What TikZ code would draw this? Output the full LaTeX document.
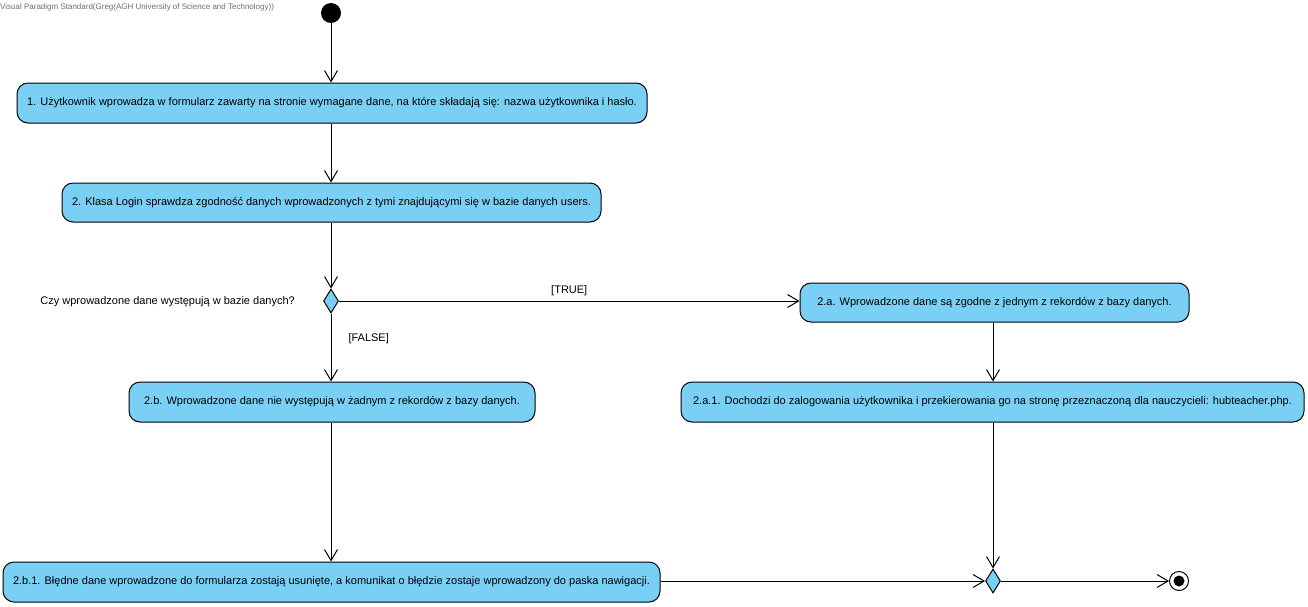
\documentclass[tikz,border=0pt]{standalone}
\usepackage{fontspec}
\setmainfont{Liberation Sans}
\usetikzlibrary{arrows.meta,shapes.geometric}
\definecolor{actfill}{RGB}{122,207,245}
\definecolor{hdrgray}{RGB}{110,110,110}
\tikzset{
  act/.style={draw=black,line width=1pt,fill=actfill,rounded corners=11pt,inner sep=0pt,font=\fontsize{11}{13}\selectfont},
  flow/.style={draw=black,line width=1pt,-{Straight Barb[length=11pt,width=13pt,line width=1pt]}},
  dec/.style={diamond,draw=black,line width=1pt,fill=actfill,inner sep=0pt,minimum width=15pt,minimum height=24pt},
  lbl/.style={font=\fontsize{11}{13}\selectfont,inner sep=0pt},
}
\begin{document}
\begin{tikzpicture}[x=1pt,y=-1pt]
\useasboundingbox (0,0) rectangle (1308,606);
\node[anchor=north west,inner sep=0pt,text=hdrgray,font=\fontsize{8}{9}\selectfont] (hdr) at (0,3) {Visual Paradigm Standard(Greg(AGH University of Science and Technology))};
\node[circle,fill=black,minimum size=20pt,inner sep=0pt] (start) at (331,13) {};
\node[act,minimum width=630pt,minimum height=40pt] (n1) at (332,103) {1. Użytkownik wprowadza w formularz zawarty na stronie wymagane dane, na które składają się: nazwa użytkownika i hasło.};
\node[act,minimum width=539pt,minimum height=39pt] (n2) at (331.5,202.5) {2. Klasa Login sprawdza zgodność danych wprowadzonych z tymi znajdującymi się w bazie danych users.};
\node[dec] (d1) at (331,301) {};
\node[lbl,anchor=east] (q) at (295,302) {Czy wprowadzone dane występują w bazie danych?};
\node[act,minimum width=389pt,minimum height=39pt] (n2a) at (994.5,302.5) {2.a. Wprowadzone dane są zgodne z jednym z rekordów z bazy danych.};
\node[act,minimum width=406pt,minimum height=40pt] (n2b) at (332,402) {2.b. Wprowadzone dane nie występują w żadnym z rekordów z bazy danych.};
\node[act,minimum width=623pt,minimum height=40pt] (n2a1) at (992.5,402) {2.a.1. Dochodzi do zalogowania użytkownika i przekierowania go na stronę przeznaczoną dla nauczycieli: hubteacher.php.};
\node[act,minimum width=657pt,minimum height=40pt] (n2b1) at (331.5,582) {2.b.1. Błędne dane wprowadzone do formularza zostają usunięte, a komunikat o błędzie zostaje wprowadzony do paska nawigacji.};
\node[dec] (d2) at (993,581) {};
\node[circle,draw=black,line width=1pt,fill=white,minimum size=19pt,inner sep=0pt] (fin) at (1179,581) {};
\node[circle,fill=black,minimum size=11pt,inner sep=0pt] (finin) at (fin) {};
\draw[flow] (start) -- (n1.north -| start);
\draw[flow] (n1.south -| start) -- (n2.north -| start);
\draw[flow] (n2.south -| d1) -- (d1.north);
\draw[flow] (d1.east) -- node[lbl,above=5pt,pos=0.5] (ltrue) {[TRUE]} (n2a.west |- d1);
\draw[flow] (d1.south) -- node[lbl,right=17pt,pos=0.37] (lfalse) {[FALSE]} (n2b.north -| d1);
\draw[flow] (n2a.south -| d2) -- (n2a1.north -| d2);
\draw[flow] (n2b.south -| d1) -- (n2b1.north -| d1);
\draw[flow] (n2a1.south -| d2) -- (d2.north);
\draw[flow] (n2b1.east |- d2) -- (d2.west);
\draw[flow] (d2.east) -- (fin.west);
\end{tikzpicture}
\end{document}
